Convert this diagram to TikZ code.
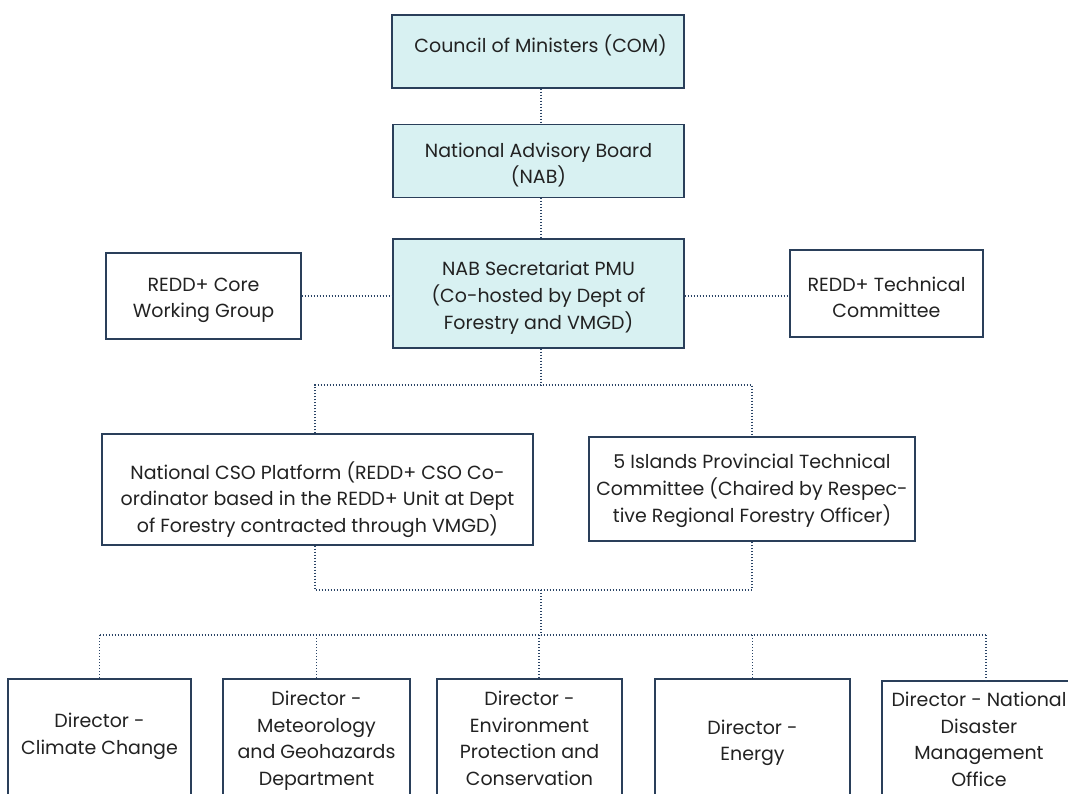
\documentclass[tikz,border=0pt]{standalone}
\usepackage{fontspec}
\setmainfont{Poppins}
\definecolor{paleteal}{HTML}{D8F1F2}
\definecolor{boxline}{HTML}{2A3F5A}
\definecolor{linkcol}{HTML}{2A4466}
\definecolor{ink}{HTML}{222222}
% centred block of lines, optionally lowered by #1 px without changing its size
\newcommand\boxtext[2][0]{\raisebox{\dimexpr -#1pt*3/4\relax}[\height][\depth]{\begin{tabular}{@{}c@{}}#2\end{tabular}}}
\begin{document}
\begin{tikzpicture}[x=0.75pt,y=-0.75pt,
  boxsize/.style 2 args={minimum width=0.75pt*#1, minimum height=0.75pt*#2},
  box/.style={draw=boxline, line width=1.1pt, fill=white, inner sep=0pt,
    text=ink, font=\fontsize{14.25}{20}\selectfont},
  keybox/.style={box, fill=paleteal},
  link/.style={draw=linkcol, line width=0.9pt, dash pattern=on 0.8pt off 1.45pt}]
\useasboundingbox (0,0) rectangle (1068,793);
\fill[white] (0,0) rectangle (1068,793);
\clip (0,0) rectangle (1068,793);

% governance chain
\node[keybox, boxsize={292}{73}] (com) at (538,51.5) {\boxtext[-4]{\hspace{4pt}Council of Ministers (COM)}};
\node[keybox, boxsize={291}{72.5}] (nab) at (538.5,161) {\boxtext[4]{National Advisory Board\\(NAB)}};
\node[keybox, boxsize={291}{109}] (sec) at (538.5,293.5) {\boxtext[3.5]{NAB Secretariat PMU\\(Co-hosted by Dept of\\Forestry and VMGD)}};

% side groups
\node[box, boxsize={195}{86}] (core) at (203.5,296) {\boxtext[3]{REDD+ Core\\Working Group}};
\node[box, boxsize={193}{87}] (tech) at (886.5,293.5) {\boxtext[5.5]{REDD+ Technical\\Committee}};

% platforms
\node[box, boxsize={431}{111}] (cso) at (317.5,489.5) {\boxtext[11]{National CSO Platform (REDD+ CSO Co-\\ordinator based in the REDD+ Unit at Dept\\of Forestry contracted through VMGD)}};
\node[box, boxsize={326}{104}] (isl) at (752,489) {\boxtext[1]{5 Islands Provincial Technical\\Committee (Chaired by Respec-\\tive Regional Forestry Officer)}};

% directors
\node[box, boxsize={183}{122}] (d1) at (99.5,740) {\boxtext[-4.5]{Director -\\Climate Change}};
\node[box, boxsize={187}{122}] (d2) at (316.5,740) {\boxtext{Director -\\Meteorology\\and Geohazards\\Department}};
\node[box, boxsize={185}{122}] (d3) at (529.5,740) {\boxtext{Director -\\Environment\\Protection and\\Conservation}};
\node[box, boxsize={195}{122}] (d4) at (752.5,740) {\boxtext[2]{Director -\\Energy}};
\node[box, boxsize={194}{122}] (d5) at (979,742) {\boxtext[-1]{Director - National\\Disaster\\Management\\Office}};

% routing helpers
\coordinate (spine) at ([xshift=1.9pt]sec.south);
\coordinate (csox) at ([xshift=-1.9pt]cso.north);
\coordinate (d3x) at ([xshift=7.1pt]d3.north);
\coordinate (d5x) at ([xshift=5.2pt]d5.north);
\coordinate (tier1) at (0,385);
\coordinate (tier2) at (0,590);
\coordinate (tier3) at (0,635);

% connectors
\draw[link] (com.south -| spine) -- (nab.north -| spine);
\draw[link] (nab.south -| spine) -- (sec.north -| spine);
\draw[link] (core.east) -- (sec.west |- core.east);
\draw[link] (sec.east |- core.east) -- (tech.west |- core.east);
\draw[link] (spine) -- (spine |- tier1);
\draw[link] (csox) |- (isl.north |- tier1) -- (isl.north);
\draw[link] (cso.south -| csox) |- (isl.south |- tier2) -- (isl.south);
\draw[link] (spine |- tier2) -- (spine |- tier3);
\draw[link] (d1.north |- tier3) -- (d5x |- tier3);
\draw[link] (d1.north |- tier3) -- (d1.north);
\draw[link] (d2.north |- tier3) -- (d2.north);
\draw[link] (d3x |- tier3) -- (d3x);
\draw[link] (d4.north |- tier3) -- (d4.north);
\draw[link] (d5x |- tier3) -- (d5x);
\end{tikzpicture}
\end{document}
